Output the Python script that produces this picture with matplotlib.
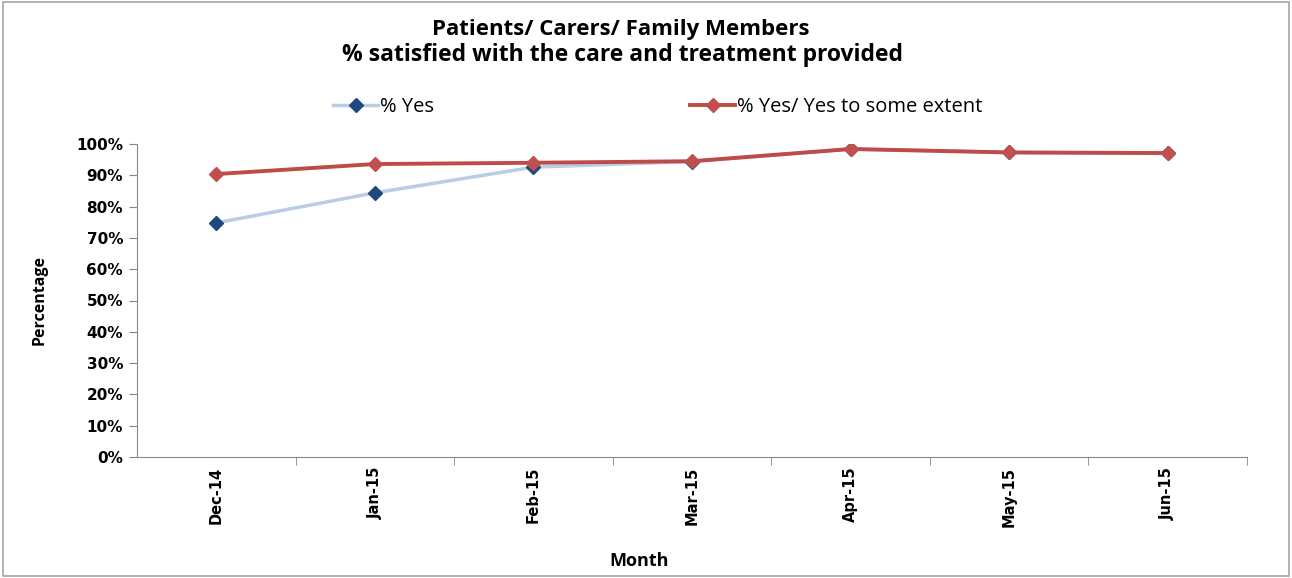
import matplotlib
matplotlib.use("Agg")
import matplotlib.pyplot as plt
from matplotlib.patches import Rectangle
from matplotlib.ticker import FixedLocator, PercentFormatter

months = ["Dec-14", "Jan-15", "Feb-15", "Mar-15", "Apr-15", "May-15", "Jun-15"]
pct_yes = [74.8, 84.4, 92.6, 94.4, 98.4, 97.3, 97.1]
pct_yes_some = [90.4, 93.6, 94.0, 94.5, 98.4, 97.3, 97.1]
yticks = list(range(0, 101, 10))

fig = plt.figure(figsize=(12.92, 5.78), dpi=100)
fig.patches.append(Rectangle((0.002, 0.003), 0.996, 0.994, transform=fig.transFigure,
                             fill=False, edgecolor="#a6a6a6", linewidth=1.2))

ax = fig.add_axes([137/1292, 1-457/578, (1247-137)/1292, (457-144)/578])
x = list(range(len(months)))
l1, = ax.plot(x, pct_yes, color="#b9cde5", linewidth=2.5, marker="D", markersize=7,
              markerfacecolor="#1f497d", markeredgecolor="#1f497d", label="% Yes", zorder=3)
l2, = ax.plot(x, pct_yes_some, color="#be4b48", linewidth=2.8, marker="D", markersize=7,
              markerfacecolor="#c0504d", markeredgecolor="#c0504d", label="% Yes/ Yes to some extent", zorder=4)

ax.set_xlim(-0.5, len(months) - 0.5)
ax.set_ylim(0, 100)
ax.set_yticks(yticks)
ax.yaxis.set_major_formatter(PercentFormatter(decimals=0))
ax.set_xticks(x)
ax.set_xticklabels(months, rotation=90, fontsize=10.5, fontweight="bold", family="DejaVu Sans")
ax.xaxis.set_minor_locator(FixedLocator([i + 0.5 for i in x]))
ax.tick_params(axis="x", which="major", length=0, pad=7)
ax.tick_params(axis="x", which="minor", length=6, color="#868686", direction="out")
ax.tick_params(axis="y", length=6, color="#868686", direction="out", labelsize=11, pad=4)
for lab in ax.get_yticklabels():
    lab.set_fontweight("bold")
    lab.set_family("DejaVu Sans")
for s in ["top", "right"]:
    ax.spines[s].set_visible(False)
for s in ["left", "bottom"]:
    ax.spines[s].set_color("#868686")

fig.text(0.031, 1-300/578, "Percentage", rotation=90, ha="center", va="center",
         fontsize=11.5, fontweight="bold", family="Open Sans")
fig.text(639/1292, 1-561/578, "Month", ha="center", va="center",
         fontsize=13, fontweight="bold", family="Open Sans")
fig.text(621/1292, 1-30/578, "Patients/ Carers/ Family Members", ha="center", va="center",
         fontsize=16, fontweight="bold", family="Open Sans")
fig.text(622/1292, 1-55/578, "% satisfied with the care and treatment provided", ha="center", va="center",
         fontsize=16.5, fontweight="bold", family="Open Sans")

legprops = {"family": "Open Sans", "size": 14.5}
leg1 = fig.legend(handles=[l1], loc="center left", bbox_to_anchor=(333/1292, 1-107/578), frameon=False,
                  prop=legprops, handlelength=2.25, handletextpad=0.1, borderpad=0, borderaxespad=0)
leg2 = fig.legend(handles=[l2], loc="center left", bbox_to_anchor=(690/1292, 1-107/578), frameon=False,
                  prop=legprops, handlelength=2.25, handletextpad=0.1, borderpad=0, borderaxespad=0)

fig.savefig("out.png", dpi=100)
